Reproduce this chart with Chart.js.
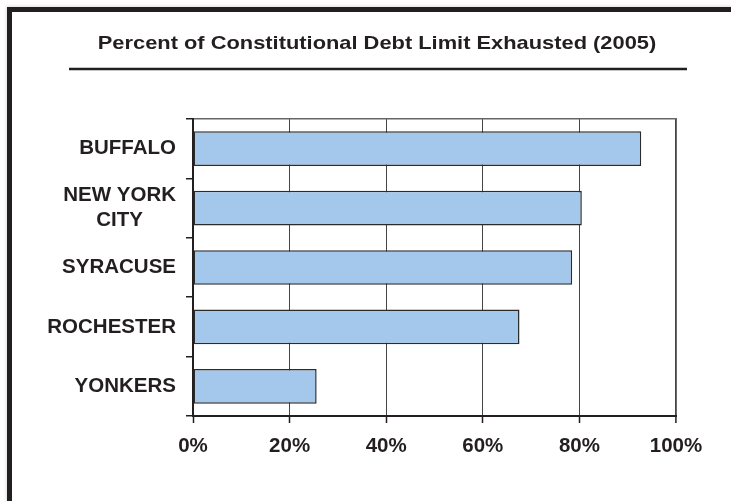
<!DOCTYPE html>
<html>
<head>
<meta charset="utf-8">
<script src="https://cdn.jsdelivr.net/npm/chart.js@4/dist/chart.umd.min.js"></script>
<style>
  html, body { margin: 0; padding: 0; background: #fff; overflow: hidden; }
  #wrap { position: relative; width: 731px; height: 501px; }
  #frame {
    position: absolute; left: 7px; top: 7px; right: -20px; bottom: -20px;
    border-top: 5px solid #231f20; border-left: 5px solid #231f20;
    box-shadow: -1px -1px 3px rgba(0,0,0,0.12);
    pointer-events: none;
  }
  #chartBox { position: absolute; left: 0; top: 0; }
</style>
</head>
<body>
<div id="wrap">
  <canvas id="chartBox" width="731" height="501"></canvas>
  <div id="frame"></div>
</div>
<script>
const chartTitle = 'Percent of Constitutional Debt Limit Exhausted (2005)';
const cities = ['BUFFALO', ['NEW YORK', 'CITY'], 'SYRACUSE', 'ROCHESTER', 'YONKERS'];
const debtUsed = [92.8, 80.5, 78.5, 67.6, 25.6];
const tickValues = [0, 20, 40, 60, 80, 100];
const tickLabels = ['0%', '20%', '40%', '60%', '80%', '100%'];

const ink = '#231f20';
const fontFamily = '"Liberation Sans", Arial, Helvetica, sans-serif';

// title text plus the rule under it
const headerPlugin = {
  id: 'header',
  afterDraw(chart) {
    const ctx = chart.ctx;
    ctx.save();
    ctx.fillStyle = ink;
    ctx.font = 'bold 19px ' + fontFamily;
    ctx.textAlign = 'center';
    ctx.textBaseline = 'middle';
    ctx.translate(377, 44);
    ctx.scale(1.15, 1);
    ctx.fillText(chartTitle, 0, 0);
    ctx.restore();

    ctx.save();
    ctx.strokeStyle = ink;
    ctx.lineWidth = 2.5;
    ctx.beginPath();
    ctx.moveTo(69, 69);
    ctx.lineTo(687, 69);
    ctx.stroke();
    ctx.restore();
  }
};

// city names: single lines right aligned, wrapped names centred on their widest line
const cityLabelPlugin = {
  id: 'cityLabels',
  afterDraw(chart) {
    const ctx = chart.ctx;
    const yScale = chart.scales.y;
    const right = chart.chartArea.left - 17;
    const lineH = 25.3;
    ctx.save();
    ctx.fillStyle = ink;
    ctx.font = 'bold 20.5px ' + fontFamily;
    ctx.textAlign = 'center';
    ctx.textBaseline = 'middle';
    cities.forEach((label, i) => {
      const lines = Array.isArray(label) ? label : [label];
      const widest = Math.max(...lines.map(l => ctx.measureText(l).width));
      const cx = right - widest / 2;
      const cy = yScale.getPixelForValue(i);
      lines.forEach((line, j) => {
        ctx.fillText(line, cx, cy + (j - (lines.length - 1) / 2) * lineH);
      });
    });
    ctx.restore();
  }
};

const chartBox = document.querySelector('#chartBox').getContext('2d');

let debtChart = new Chart(chartBox, {
  type: 'bar',
  data: {
    labels: cities,
    datasets: [
      {
        label: 'Debt limit exhausted',
        data: debtUsed,
        backgroundColor: '#a3c8eb',
        borderColor: '#2b2b2b',
        borderWidth: 1.5,
        borderSkipped: false,
        barPercentage: 0.585,
        categoryPercentage: 1
      }
    ]
  },
  options: {
    indexAxis: 'y',
    responsive: false,
    animation: false,
    layout: {
      padding: { top: 111, left: 186, right: 55, bottom: 31.4 }
    },
    plugins: {
      legend: { display: false },
      tooltip: { enabled: false },
      title: { display: false }
    },
    scales: {
      x: {
        type: 'linear',
        position: 'bottom',
        min: 0,
        max: 100,
        afterBuildTicks: (scale) => {
          scale.ticks = tickValues.map(v => ({ value: v }));
        },
        ticks: {
          color: ink,
          padding: 11,
          font: { family: fontFamily, size: 20.5, weight: 'bold' },
          callback: (value) => tickLabels[tickValues.indexOf(value)]
        },
        grid: {
          color: '#444',
          lineWidth: (c) => (c.index === tickValues.length - 1 ? 1.8 : 1),
          tickLength: 7,
          tickColor: ink,
          tickWidth: 1.5
        },
        border: { display: true, color: ink, width: 2 }
      },
      xTop: {
        type: 'linear',
        position: 'top',
        min: 0,
        max: 100,
        ticks: { display: false },
        grid: { display: false },
        border: { display: true, color: '#666', width: 1.5 }
      },
      y: {
        type: 'category',
        ticks: { display: false },
        grid: {
          offset: true,
          drawOnChartArea: false,
          tickLength: 7,
          color: ink,
          lineWidth: 1.5
        },
        border: { display: true, color: ink, width: 2 }
      }
    }
  },
  plugins: [headerPlugin, cityLabelPlugin]
});
</script>
</body>
</html>
